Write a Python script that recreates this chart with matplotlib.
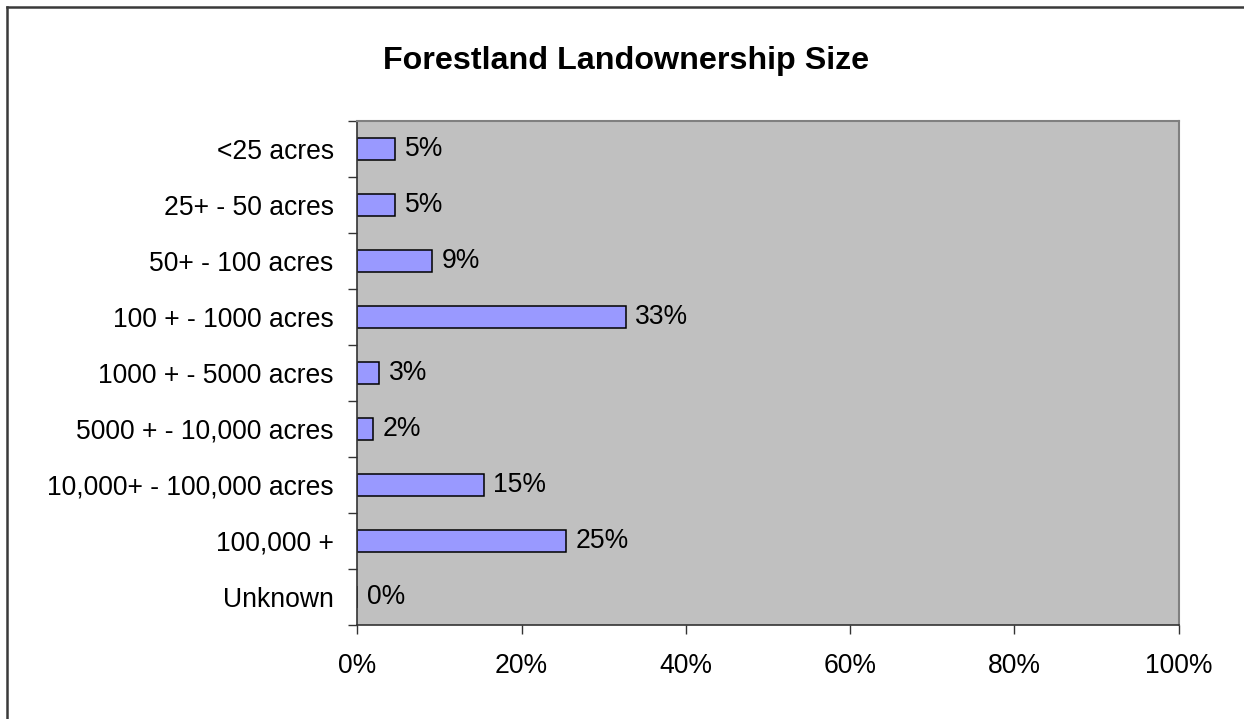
import matplotlib
matplotlib.use("Agg")
import matplotlib.pyplot as plt
from matplotlib.lines import Line2D
from matplotlib.ticker import FixedLocator, PercentFormatter

# Share of forestland by ownership size class (percent)
categories = [
    "<25 acres",
    "25+ - 50 acres",
    "50+ - 100 acres",
    "100 + - 1000 acres",
    "1000 + - 5000 acres",
    "5000 + - 10,000 acres",
    "10,000+ - 100,000 acres",
    "100,000 +",
    "Unknown",
]
shares = [4.6, 4.6, 9.1, 32.7, 2.7, 1.9, 15.4, 25.4, 0.0]
x_ticks = [0, 20, 40, 60, 80, 100]
title = "Forestland Landownership Size"

plt.rcParams["font.family"] = ["Liberation Sans", "DejaVu Sans"]
FS = 19.1

W, H = 1244, 719
fig = plt.figure(figsize=(W / 100, H / 100), dpi=100)
fig.patch.set_facecolor("white")

# chart frame (top and left edges visible)
fx0, fy0 = 7 / W, 1 - 7 / H
fig.add_artist(Line2D([fx0, 1.0], [fy0, fy0], transform=fig.transFigure,
                      color="#3a3a3a", lw=1.8))
fig.add_artist(Line2D([fx0, fx0], [fy0, 0.0], transform=fig.transFigure,
                      color="#3a3a3a", lw=1.8))

left, right, top, bottom = 357.3, 1178.5, 121, 625
ax = fig.add_axes([left / W, 1 - bottom / H, (right - left) / W, (bottom - top) / H])
ax.set_facecolor("#C0C0C0")

pos = list(range(len(categories)))
ax.barh(pos, shares, height=0.4, color="#9999FF", edgecolor="black", linewidth=1.1)

for y, v in zip(pos, shares):
    ax.annotate(f"{v:.0f}%", xy=(v, y), xytext=(6.8, 0), textcoords="offset points",
                ha="left", va="center", fontsize=FS, color="black")

ax.set_xlim(0, 100)
ax.set_ylim(len(categories) - 0.5, -0.5)

ax.set_yticks(pos)
ax.set_yticklabels(categories, fontsize=FS)
ax.yaxis.set_minor_locator(FixedLocator([p - 0.5 for p in pos] + [len(pos) - 0.5]))
ax.tick_params(axis="y", which="major", length=0, pad=17)
ax.tick_params(axis="y", which="minor", length=6.5, width=1.0, color="#333333")

ax.set_xticks(x_ticks)
ax.xaxis.set_major_formatter(PercentFormatter(decimals=0))
ax.tick_params(axis="x", which="major", length=6.5, width=1.0, color="#333333",
               labelsize=FS, pad=13.5)

for side in ("left", "bottom"):
    ax.spines[side].set_color("#333333")
    ax.spines[side].set_linewidth(1.2)
for side in ("top", "right"):
    ax.spines[side].set_color("#808080")
    ax.spines[side].set_linewidth(1.5)

fig.text(626.5 / W, 1 - 68.7 / H, title, ha="center", va="baseline",
         fontsize=23.2, fontweight="bold")

fig.savefig("out.png", dpi=100)
